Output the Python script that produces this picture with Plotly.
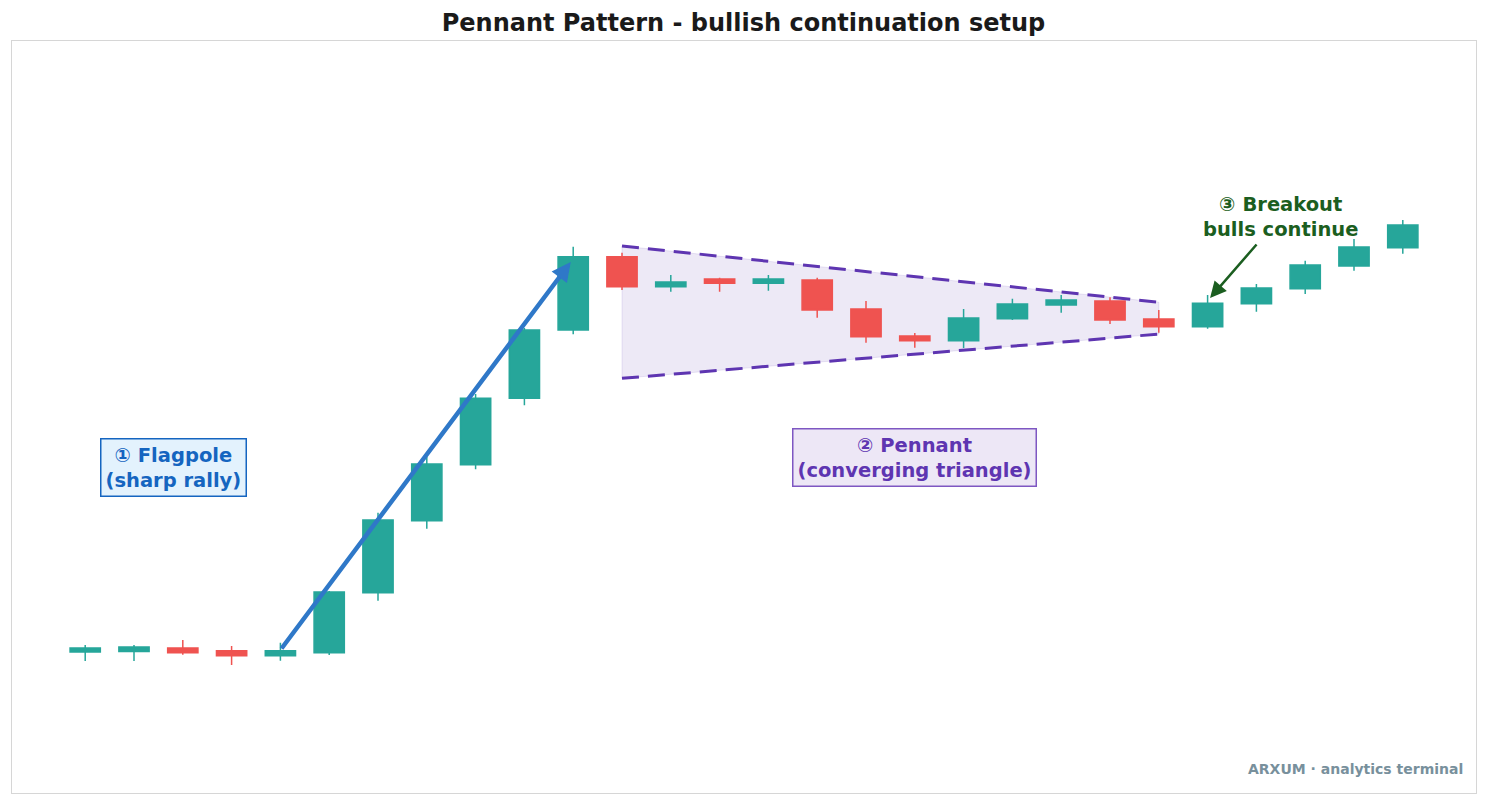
import plotly.graph_objects as go

# ---- data ----
idx = list(range(28))
opens = [99.8, 99.85, 100.2, 99.93, 99.43, 99.73, 105.73, 112.93, 118.53, 125.17,
         132.0, 139.33, 136.33, 137.1, 136.67, 137.0, 134.1, 131.4, 130.93, 133.13,
         134.5, 134.9, 133.1, 132.33, 134.63, 136.13, 138.4, 140.23]
closes = [100.2, 100.3, 99.73, 99.43, 99.93, 105.8, 113.0, 118.6, 125.17, 132.0,
          139.33, 136.33, 136.8, 136.67, 137.1, 134.0, 131.33, 130.93, 133.2, 134.6,
          135.0, 133.0, 132.33, 134.67, 136.2, 138.5, 140.3, 142.5]
highs = [100.5, 100.5, 101.0, 100.4, 100.73, 105.9, 113.73, 119.3, 125.6, 132.2,
         140.33, 139.73, 137.5, 137.23, 137.5, 137.23, 134.9, 131.7, 134.1, 135.13,
         135.5, 135.27, 134.0, 135.5, 136.6, 138.93, 141.1, 143.0]
lows = [98.9, 98.9, 99.53, 98.5, 98.93, 99.5, 104.93, 112.13, 118.07, 124.47,
        131.57, 136.0, 135.83, 135.83, 135.93, 133.23, 130.73, 130.23, 130.2, 133.0,
        133.73, 132.6, 131.73, 132.13, 133.83, 135.6, 137.93, 139.63]

pennant_x = [11, 22]
pennant_upper = [140.4, 134.78]
pennant_lower = [127.17, 131.59]

flagpole_start = (4, 100.0)
flagpole_end = (9.95, 138.8)
breakout_tail = (24.03, 140.7)
breakout_head = (23.05, 135.2)
breakout_label = (24.5, 143.3)
flag_label = (1.8, 118.3)
pennant_label = (17.0, 119.3)

title_text = "Pennant Pattern - bullish continuation setup"
watermark = "ARXUM · analytics terminal"

GREEN = "#26a69a"
RED = "#ef5350"
PURPLE = "#5e35b1"
BLUE = "#1565c0"
DKGREEN = "#1b5e20"
FONT = "DejaVu Sans"

fig = go.Figure()

# pennant fill as a below-traces shape in data coordinates
poly_x = pennant_x + pennant_x[::-1]
poly_y = pennant_upper + pennant_lower[::-1]
path = "M " + " L ".join(f"{px},{py}" for px, py in zip(poly_x, poly_y)) + " Z"
fig.add_shape(type="path", path=path, xref="x", yref="y", layer="below",
              fillcolor="rgba(94,53,177,0.11)",
              line=dict(color="rgba(94,53,177,0.12)", width=1))

for yy in (pennant_upper, pennant_lower):
    fig.add_trace(go.Scatter(
        x=pennant_x, y=yy, mode="lines",
        line=dict(color=PURPLE, width=3, dash="17px,9px"),
        hoverinfo="skip", showlegend=False))

fig.add_trace(go.Candlestick(
    x=idx, open=opens, high=highs, low=lows, close=closes,
    increasing=dict(line=dict(color=GREEN, width=1.5), fillcolor=GREEN),
    decreasing=dict(line=dict(color=RED, width=1.5), fillcolor=RED),
    showlegend=False))

annotations = [
    dict(x=flagpole_end[0], y=flagpole_end[1], ax=flagpole_start[0], ay=flagpole_start[1],
         xref="x", yref="y", axref="x", ayref="y", text="", showarrow=True,
         arrowhead=2, arrowsize=0.85, arrowwidth=4.5, arrowcolor="#2f78c8", standoff=0),
    dict(x=breakout_head[0], y=breakout_head[1], ax=breakout_tail[0], ay=breakout_tail[1],
         xref="x", yref="y", axref="x", ayref="y", text="", showarrow=True,
         arrowhead=2, arrowsize=1.3, arrowwidth=2.5, arrowcolor=DKGREEN, standoff=0),
    dict(x=breakout_label[0], y=breakout_label[1], xref="x", yref="y",
         text="③ Breakout<br>bulls continue", showarrow=False,
         font=dict(family=FONT, size=19.5, color=DKGREEN, weight="bold"),
         xanchor="center", yanchor="middle"),
    dict(x=flag_label[0], y=flag_label[1], xref="x", yref="y",
         text="① Flagpole<br>(sharp rally)", showarrow=False,
         font=dict(family=FONT, size=19.5, color=BLUE, weight="bold"),
         bgcolor="#e3f2fd", bordercolor=BLUE, borderwidth=1.5, borderpad=4,
         xanchor="center", yanchor="middle"),
    dict(x=pennant_label[0], y=pennant_label[1], xref="x", yref="y",
         text="② Pennant<br>(converging triangle)", showarrow=False,
         font=dict(family=FONT, size=19.5, color=PURPLE, weight="bold"),
         bgcolor="#ede7f6", bordercolor="#7e57c2", borderwidth=1.5, borderpad=4,
         xanchor="center", yanchor="middle"),
    dict(x=0.9925, y=0.0319, xref="paper", yref="paper", text=watermark,
         showarrow=False, xanchor="right", yanchor="middle",
         font=dict(family=FONT, size=14, color="#78909c", weight="bold")),
]

W, H = 1471, 789
fig.update_layout(
    width=W, height=H,
    margin=dict(l=4, r=3, t=33, b=4),
    paper_bgcolor="white", plot_bgcolor="white",
    title=dict(text=title_text, x=0.5, xanchor="center", y=1 - 15 / H,
               yanchor="middle",
               font=dict(family=FONT, size=24, color="#1a1a1a", weight="bold")),
    boxgap=0.0, boxgroupgap=0.38,
    annotations=annotations,
    showlegend=False,
)
fig.update_xaxes(range=[-1.5, 28.5], showgrid=False, zeroline=False,
                 showticklabels=False, ticks="", showline=True, mirror=True,
                 linecolor="#d6d6d6", linewidth=1,
                 rangeslider=dict(visible=False))
fig.update_yaxes(range=[85.7, 160.9], showgrid=False, zeroline=False,
                 showticklabels=False, ticks="", showline=True, mirror=True,
                 linecolor="#d6d6d6", linewidth=1)

fig.write_html("out.html")
